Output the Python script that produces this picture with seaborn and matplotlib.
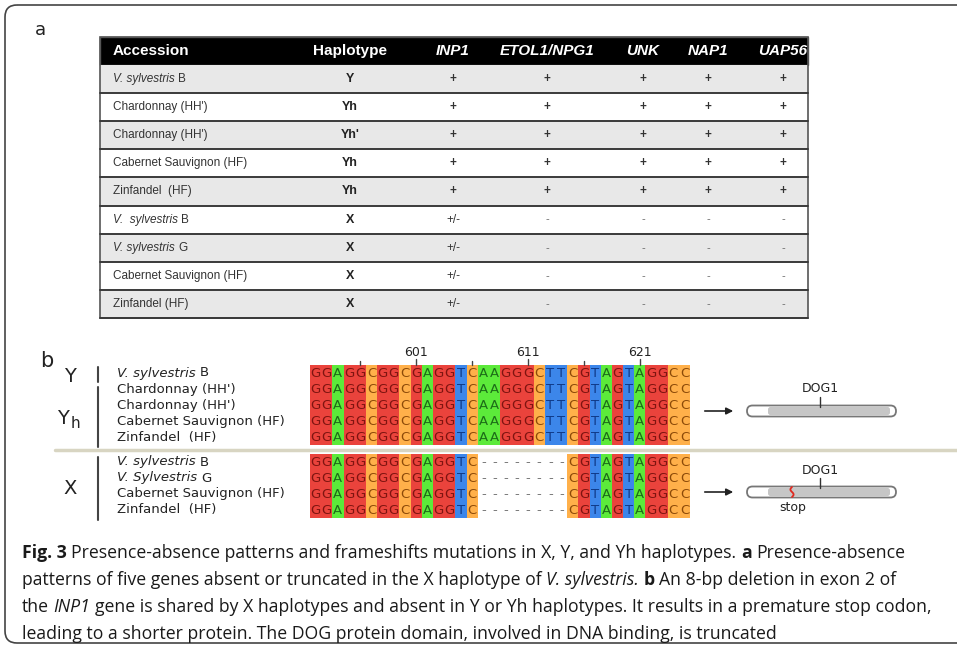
import numpy as np
import matplotlib
matplotlib.use('Agg')
import matplotlib.pyplot as plt
from matplotlib.colors import ListedColormap
from matplotlib.patches import Rectangle, FancyBboxPatch
from matplotlib import font_manager as fm
import seaborn as sns

# ── Data ──────────────────────────────────────────────────────
accessions = ['V. sylvestris B', "Chardonnay (HH')", "Chardonnay (HH')",
              'Cabernet Sauvignon (HF)', 'Zinfandel  (HF)', 'V.  sylvestris B',
              'V. sylvestris G', 'Cabernet Sauvignon (HF)', 'Zinfandel (HF)']
haplotypes = ['Y', 'Yh', "Yh'", 'Yh', 'Yh', 'X', 'X', 'X', 'X']
genes = ['INP1', 'ETOL1/NPG1', 'UNK', 'NAP1', 'UAP56']
inp1 = ['+', '+', '+', '+', '+', '+/-', '+/-', '+/-', '+/-']
etol1 = ['+', '+', '+', '+', '+', '-', '-', '-', '-']
unk = ['+', '+', '+', '+', '+', '-', '-', '-', '-']
nap1 = ['+', '+', '+', '+', '+', '-', '-', '-', '-']
uap56 = ['+', '+', '+', '+', '+', '-', '-', '-', '-']

seq_y = 'GGAGGCGGCGAGGTCAAGGGCTTCGTAGTAGGCC'
seq_x = 'GGAGGCGGCGAGGTC--------CGTAGTAGGCC'
names_y = ['V. sylvestris B', "Chardonnay (HH')", "Chardonnay (HH')",
           'Cabernet Sauvignon (HF)', 'Zinfandel  (HF)']
names_x = ['V. sylvestris B', 'V. Sylvestris G', 'Cabernet Sauvignon (HF)',
           'Zinfandel  (HF)']
first_pos = 592
pos_major = [601, 611, 621]
pos_minor = [596, 606, 616]

caption = [
    [('Fig. 3', 'b'), ('Presence-absence patterns and frameshifts mutations in X, Y, and Yh haplotypes.', 'n'),
     ('a', 'b'), ('Presence-absence', 'n')],
    [('patterns of five genes absent or truncated in the X haplotype of', 'n'), ('V. sylvestris.', 'i'),
     ('b', 'b'), ('An 8-bp deletion in exon 2 of', 'n')],
    [('the', 'n'), ('INP1', 'i'),
     ('gene is shared by X haplotypes and absent in Y or Yh haplotypes. It results in a premature stop codon,', 'n')],
    [('leading to a shorter protein. The DOG protein domain, involved in DNA binding, is truncated', 'n')],
]

# ── Setup ─────────────────────────────────────────────────────
sns.set_style('white')
W, H = 957, 647
fig = plt.figure(figsize=(W / 100, H / 100), dpi=100)
ov = fig.add_axes([0, 0, 1, 1], zorder=5)
ov.set_xlim(0, W)
ov.set_ylim(H, 0)
ov.axis('off')
ov.patch.set_alpha(0)
renderer = fig.canvas.get_renderer()

TABLE_FONT = 'Liberation Sans'
try:
    fm.findfont('Liberation Sans Narrow', fallback_to_default=False)
    CAP_FONT = 'Liberation Sans Narrow'
except ValueError:
    CAP_FONT = 'Open Sans'

STYLES = {'n': dict(), 'i': dict(style='italic'), 'b': dict(weight='bold'),
          'bi': dict(style='italic', weight='bold')}


def text_w(s, **kw):
    t = ov.text(0, 0, s, **kw)
    w = t.get_window_extent(renderer).width
    t.remove()
    return w


def rich(x, y, runs, size, family, va='baseline', color='#222', measure=False):
    """Each run is one Text; runs are chained with one space between them."""
    base = dict(fontsize=size, family=family)
    sp = text_w('x x', **base) - text_w('xx', **base)
    x0 = x
    for txt, st in runs:
        txt = txt.strip()
        if not measure:
            ov.text(x, y, txt, va=va, ha='left', color=color, **base, **STYLES[st])
        x += text_w(txt, **base, **STYLES[st]) + sp
    return x - sp - x0


def species_runs(name):
    for pre in ('V. sylvestris', 'V.  sylvestris', 'V. Sylvestris'):
        if name.startswith(pre):
            return [(pre, 'i'), (name[len(pre):], 'n')]
    return [(name, 'n')]


# ── Outer frame ───────────────────────────────────────────────
ov.add_patch(FancyBboxPatch((5, 5), 965, 638, boxstyle='round,pad=0,rounding_size=12',
                            fc='none', ec='#444', lw=1.2))

# ── Panel a ───────────────────────────────────────────────────
ov.text(35, 30, 'a', fontsize=13, family='DejaVu Sans', ha='left', va='center', color='#222')

tx0, tx1 = 100, 808
head_top, head_bot = 37, 65
row_h = 28.1
n_rows = len(accessions)
col_x = [350, 453, 547, 643, 708, 783]

ov.add_patch(Rectangle((tx0, head_top), tx1 - tx0, head_bot - head_top, fc='black', ec='#555', lw=1))
ov.text(113, 51, 'Accession', color='white', fontsize=11, weight='bold', family=TABLE_FONT,
        ha='left', va='center')
ov.text(col_x[0], 51, 'Haplotype', color='white', fontsize=11, weight='bold', family=TABLE_FONT,
        ha='center', va='center')
for g, cx in zip(genes, col_x[1:]):
    ov.text(cx, 51, g, color='white', fontsize=11, weight='bold', style='italic',
            family=TABLE_FONT, ha='center', va='center')

cols = [inp1, etol1, unk, nap1, uap56]
for i in range(n_rows):
    top = head_bot + i * row_h
    fc = '#e8e8e8' if i % 2 == 0 else 'white'
    ov.add_patch(Rectangle((tx0, top), tx1 - tx0, row_h, fc=fc, ec='none'))
    ov.plot([tx0, tx1], [top + row_h, top + row_h], color='#3a3a3a', lw=1.4)
    yc = top + row_h / 2
    rich(113, yc, species_runs(accessions[i]), 8.5, TABLE_FONT, va='center', color='#333')
    ov.text(col_x[0], yc, haplotypes[i], fontsize=9, weight='bold', family=TABLE_FONT,
            ha='center', va='center', color='#222')
    for c, cx in zip(cols, col_x[1:]):
        v = c[i]
        if v == '-':
            ov.text(cx, yc, v, fontsize=8, family=TABLE_FONT, ha='center', va='center', color='#666')
        else:
            ov.text(cx, yc, v, fontsize=8.5, weight='bold' if v == '+' else 'normal',
                    family=TABLE_FONT, ha='center', va='center', color='#333')
ov.add_patch(Rectangle((tx0, head_top), tx1 - tx0, head_bot + n_rows * row_h - head_top,
                       fc='none', ec='#555', lw=1.2))

# ── Panel b: alignment ────────────────────────────────────────
ov.text(40, 361, 'b', fontsize=15, family='DejaVu Sans', ha='left', va='center', color='#222')

base_col = {'-': 'white', 'A': '#5cea3a', 'C': '#ffb04a', 'G': '#ea433c', 'T': '#3c86ea'}
letter_col = {'-': '#777777', 'A': '#1d6d18', 'C': '#8c4a08', 'G': '#7e1410', 'T': '#0f3a88'}
order = ['-', 'A', 'C', 'G', 'T']
cmap = ListedColormap([base_col[k] for k in order])

ax0, cw = 310, 11.18
rh = 16
blocks = [(seq_y, names_y, 365), (seq_x, names_x, 454)]


def px_axes(x0, y0, x1, y1):
    return fig.add_axes([x0 / W, 1 - y1 / H, (x1 - x0) / W, (y1 - y0) / H], zorder=3)


for seq, names, top in blocks:
    n = len(names)
    mat = np.array([[order.index(ch) for ch in seq] for _ in range(n)])
    axh = px_axes(ax0, top, ax0 + cw * len(seq), top + rh * n)
    sns.heatmap(mat, cmap=cmap, vmin=-0.5, vmax=4.5, cbar=False, ax=axh,
                xticklabels=False, yticklabels=False, linewidths=0)
    for r in range(n):
        for j, ch in enumerate(seq):
            axh.text(j + 0.5, r + 0.55, ch, ha='center', va='center', fontsize=9.5,
                     family='DejaVu Sans', color=letter_col[ch])
        rich(117, top + rh * (r + 0.5), species_runs(names[r]), 9.5, 'DejaVu Sans',
             va='center', color='#222')

# position ruler
for p in pos_major + pos_minor:
    xc = ax0 + (p - first_pos + 0.5) * cw
    y_start = 359 if p in pos_major else 361
    ov.plot([xc, xc], [y_start, 365], color='#444', lw=1)
for p in pos_major:
    xc = ax0 + (p - first_pos + 0.5) * cw
    ov.text(xc, 352, str(p), fontsize=9, family='DejaVu Sans', ha='center', va='center', color='#222')

# group labels and bars
ov.text(70, 377, 'Y', fontsize=14, family='DejaVu Sans', ha='center', va='center', color='#222')
ov.text(57, 424, 'Y', fontsize=14, family='DejaVu Sans', ha='left', va='baseline', color='#222')
ov.text(71, 428, 'h', fontsize=11, family='DejaVu Sans', ha='left', va='baseline', color='#222')
ov.text(70, 489, 'X', fontsize=14, family='DejaVu Sans', ha='center', va='center', color='#222')
for y0, y1 in [(367, 382), (387, 447), (457, 520)]:
    ov.plot([98, 98], [y0, y1], color='#444', lw=1.5)

# separator
ov.plot([55, 957], [450, 450], color='#d8d5c2', lw=2.5, zorder=6)


# protein diagrams
def protein(y, stop=False):
    ov.annotate('', xy=(736, y), xytext=(702, y),
                arrowprops=dict(arrowstyle='-|>', color='#222', lw=1.2, mutation_scale=10))
    ov.add_patch(FancyBboxPatch((747, y - 5.5), 149, 11, boxstyle='round,pad=0,rounding_size=5.5',
                                fc='white', ec='#777', lw=1.3))
    ov.add_patch(FancyBboxPatch((768, y - 4), 122, 8, boxstyle='round,pad=0,rounding_size=2.5',
                                fc='#c6c6c6', ec='none'))
    ov.plot([820, 820], [y - 14, y - 4], color='#333', lw=1)
    ov.text(820, y - 22, 'DOG1', fontsize=9, family='DejaVu Sans', ha='center', va='center', color='#222')
    if stop:
        tt = np.linspace(-1, 1, 20)
        ov.plot(792 + 1.6 * np.sin(tt * np.pi), y + tt * 5, color='#e0281e', lw=1.3)
        ov.text(793, y + 15, 'stop', fontsize=9, family='DejaVu Sans', ha='center', va='center', color='#222')


protein(411)
protein(492, stop=True)

# ── Caption ───────────────────────────────────────────────────
cap_size = 12.0
w3 = rich(0, 0, caption[2], cap_size, CAP_FONT, measure=True)
cap_size *= 905 / w3
for k, line in enumerate(caption):
    rich(22, 558 + 27 * k, line, cap_size, CAP_FONT, va='baseline', color='#1a1a1a')

fig.savefig('out.png', dpi=100)
